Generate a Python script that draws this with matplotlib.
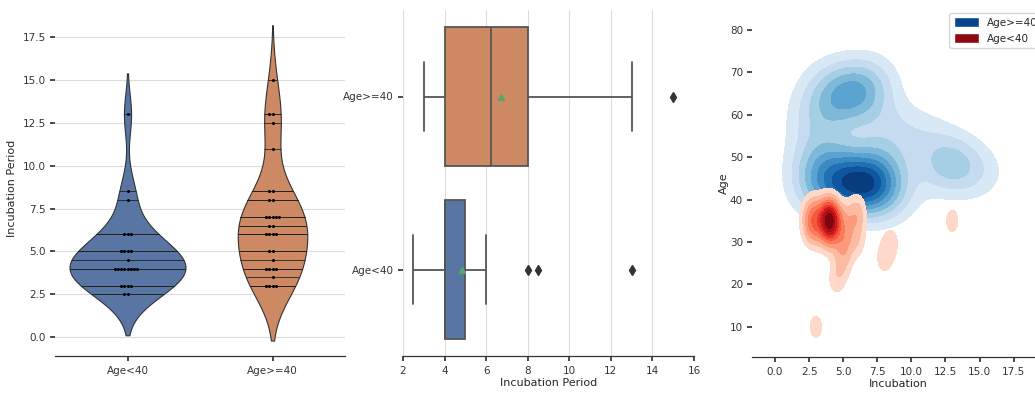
import matplotlib
matplotlib.use("Agg")
import matplotlib.pyplot as plt
import numpy as np
import pandas as pd
import seaborn as sns
from matplotlib import ticker
from matplotlib.colors import Normalize
from matplotlib.patches import Patch

young_incubation = [2.5, 2.5, 3, 3, 3, 3, 4, 4, 4, 4, 4, 4, 4, 4, 4.5,
                    5, 5, 5, 5, 6, 6, 6, 8, 8.5, 13]
young_age = [33, 37, 10, 32, 35, 38, 31, 33, 34, 35, 35, 36, 37, 38, 21,
             25, 29, 32, 36, 30, 35, 38, 26, 30, 35]

old_incubation = [3, 3, 3, 3, 3.5, 4, 4, 4, 4, 4.5, 5, 5, 6, 6, 6, 6,
                  6.5, 6.5, 7, 7, 7, 7, 7, 8, 8, 8.5, 8.5, 11, 12.5, 13, 13, 15]
old_age = [42, 47, 55, 61, 50, 41, 45, 62, 68, 48, 43, 64, 42, 44, 63, 67,
           45, 65, 41, 43, 44, 47, 69, 45, 52, 40, 58, 55, 47, 48, 50, 46]

GROUPS = ["Age<40", "Age>=40"]

df = pd.DataFrame({
    "group": [GROUPS[0]] * len(young_incubation) + [GROUPS[1]] * len(old_incubation),
    "incubation": young_incubation + old_incubation,
    "age": young_age + old_age,
})

sns.set_theme(style="whitegrid", rc={
    "font.family": "DejaVu Sans",
    "font.size": 7.5,
    "axes.labelsize": 8,
    "xtick.labelsize": 7.5,
    "ytick.labelsize": 7.5,
    "axes.edgecolor": "#333333",
    "axes.linewidth": 0.9,
    "grid.color": "#dcdcdc",
    "grid.linewidth": 0.8,
    "xtick.bottom": True,
    "ytick.left": True,
    "xtick.major.size": 3.5,
    "ytick.major.size": 3.5,
    "xtick.color": "#333333",
    "ytick.color": "#333333",
    "xtick.major.pad": 4,
    "ytick.major.pad": 3,
})

W, H = 1035, 399
fig = plt.figure(figsize=(W / 100, H / 100), dpi=100)


def px_axes(left, top, right, bottom):
    return fig.add_axes([left / W, 1 - bottom / H, (right - left) / W, (bottom - top) / H])


pal = sns.color_palette("deep")
colors = {GROUPS[0]: pal[0], GROUPS[1]: pal[1]}

# ---- panel 1: violin + swarm
ax1 = px_axes(55, 20, 345, 356)
sns.violinplot(data=df, x="group", y="incubation", hue="group", order=GROUPS,
               palette=colors, inner="stick", linecolor="#333333", linewidth=0.8,
               density_norm="area", common_norm=True,
               inner_kws={"color": "#222222", "linewidth": 0.6}, legend=False, ax=ax1)
sns.swarmplot(data=df, x="group", y="incubation", order=GROUPS, color="black",
              size=2.2, ax=ax1)
ax1.set_xlim(-0.5, 1.5)
ax1.set_ylim(-1.1, 18.5)
ax1.set_yticks(np.arange(0, 17.6, 2.5))
ax1.yaxis.set_major_formatter(ticker.FormatStrFormatter("%.1f"))
ax1.set_xlabel("")
ax1.set_ylabel("Incubation Period")
ax1.yaxis.grid(True)
ax1.xaxis.grid(False)
sns.despine(ax=ax1, left=True)

# ---- panel 2: horizontal boxplot
ax2 = px_axes(403, 10, 694, 356)
sns.boxplot(data=df, x="incubation", y="group", hue="group", order=GROUPS[::-1],
            palette=colors, orient="h", showmeans=True, linecolor="#555555",
            linewidth=1.3, width=0.8, legend=False,
            flierprops={"marker": "d", "markerfacecolor": "#333333",
                        "markeredgecolor": "#333333", "markersize": 5},
            meanprops={"marker": "^", "markerfacecolor": pal[2],
                       "markeredgecolor": pal[2], "markersize": 5}, ax=ax2)
ax2.set_xlim(2, 16)
ax2.set_xticks(np.arange(2, 17, 2))
ax2.set_ylim(1.5, -0.5)
ax2.set_xlabel("Incubation Period", labelpad=1)
ax2.set_ylabel("")
ax2.xaxis.grid(True)
ax2.yaxis.grid(False)
sns.despine(ax=ax2, left=True)

# ---- panel 3: bivariate KDE per group
ax3 = px_axes(752, 10, 1045, 357)


def kde_fill(x, y, bw, cmap):
    x = np.asarray(x, float)
    y = np.asarray(y, float)
    bx, by = bw
    gx = np.linspace(x.min() - 3 * bx, x.max() + 3 * bx, 220)
    gy = np.linspace(y.min() - 3 * by, y.max() + 3 * by, 220)
    xx, yy = np.meshgrid(gx, gy)
    z = np.zeros_like(xx)
    for xi, yi in zip(x, y):
        z += np.exp(-0.5 * (((xx - xi) / bx) ** 2 + ((yy - yi) / by) ** 2))
    z /= len(x) * 2 * np.pi * bx * by
    levels = ticker.MaxNLocator(11).tick_values(0, z.max())
    norm = Normalize(levels[0], levels[-1])
    ax3.contourf(xx, yy, z, levels=levels[1:], cmap=cmap, norm=norm)


kde_fill(old_incubation, old_age, (1.6, 4.8), "Blues")
kde_fill(young_incubation, young_age, (0.5, 3.0), "Reds")

ax3.set_xlim(-1.69, 19.8)
ax3.set_ylim(2.9, 84.7)
ax3.set_xticks(np.arange(0, 17.6, 2.5))
ax3.xaxis.set_major_formatter(ticker.FormatStrFormatter("%.1f"))
ax3.set_yticks(np.arange(10, 81, 10))
ax3.set_xlabel("Incubation", labelpad=1)
ax3.set_ylabel("Age", labelpad=1)
ax3.grid(False)
sns.despine(ax=ax3, left=True)

handles = [Patch(facecolor=plt.get_cmap("Blues")(0.92), label="Age>=40"),
           Patch(facecolor=plt.get_cmap("Reds")(0.92), label="Age<40")]
ax3.legend(handles=handles, loc="upper right", fontsize=7.5, frameon=True,
           handlelength=2.4, handleheight=1.1, borderaxespad=0.3)

fig.savefig("out.png", dpi=100)
